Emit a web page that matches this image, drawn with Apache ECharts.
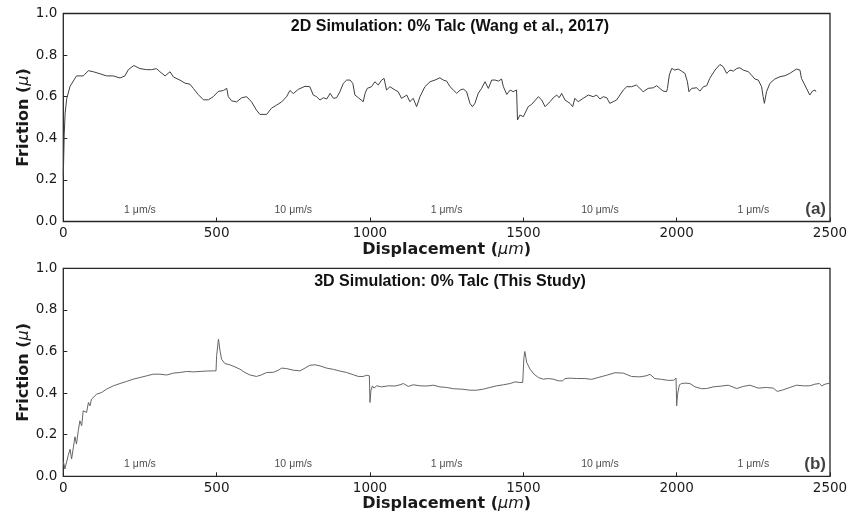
<!DOCTYPE html>
<html>
<head>
<meta charset="utf-8">
<script src="https://cdn.jsdelivr.net/npm/echarts@6/dist/echarts.min.js"></script>
<style>
  html, body { margin: 0; padding: 0; background: #fff; }
  #chart { width: 852px; height: 518px; }
</style>
</head>
<body>
<div id="chart"></div>
<script>
// Friction vs. displacement, [displacement (um), friction]
const trace2D = [
  [0,0.22],[3,0.42],[6,0.52],[11,0.59],[22,0.65],[43,0.70],[65,0.70],[82,0.725],[98,0.72],[120,0.71],
  [141,0.70],[163,0.70],[185,0.69],[201,0.70],[212,0.73],[230,0.75],[250,0.735],[272,0.73],[288,0.73],
  [304,0.735],[315,0.72],[332,0.70],[348,0.72],[359,0.695],[380,0.68],[397,0.665],[413,0.66],[424,0.64],
  [440,0.61],[457,0.585],[473,0.585],[489,0.60],[505,0.625],[522,0.63],[533,0.64],[538,0.60],[549,0.58],
  [565,0.575],[582,0.595],[598,0.60],[614,0.575],[630,0.535],[641,0.515],[663,0.515],[679,0.545],
  [696,0.56],[712,0.575],[728,0.60],[739,0.63],[750,0.615],[766,0.635],[788,0.65],[804,0.648],[815,0.608],
  [826,0.60],[837,0.584],[848,0.595],[859,0.589],[870,0.616],[875,0.624],[881,0.592],[891,0.595],
  [902,0.624],[913,0.664],[924,0.68],[935,0.68],[944,0.664],[951,0.608],[962,0.595],[978,0.576],
  [984,0.616],[991,0.64],[1005,0.648],[1016,0.672],[1027,0.656],[1038,0.68],[1046,0.688],[1054,0.632],
  [1065,0.648],[1082,0.632],[1092,0.624],[1103,0.592],[1120,0.608],[1130,0.576],[1141,0.592],[1152,0.552],
  [1163,0.60],[1179,0.648],[1196,0.672],[1212,0.68],[1228,0.691],[1239,0.68],[1250,0.675],[1261,0.648],
  [1272,0.632],[1283,0.616],[1294,0.632],[1304,0.637],[1315,0.624],[1326,0.568],[1334,0.552],[1342,0.568],
  [1353,0.616],[1364,0.64],[1375,0.672],[1386,0.64],[1397,0.68],[1408,0.68],[1419,0.675],[1429,0.685],
  [1435,0.648],[1446,0.611],[1457,0.632],[1467,0.624],[1478,0.632],[1481,0.488],[1489,0.512],[1500,0.504],
  [1516,0.552],[1527,0.563],[1533,0.568],[1549,0.60],[1560,0.584],[1571,0.552],[1587,0.576],[1598,0.595],
  [1609,0.608],[1617,0.595],[1625,0.616],[1636,0.584],[1652,0.568],[1661,0.552],[1668,0.592],[1679,0.576],
  [1695,0.592],[1712,0.608],[1728,0.60],[1739,0.608],[1750,0.589],[1761,0.60],[1772,0.595],[1782,0.568],
  [1793,0.576],[1804,0.584],[1815,0.608],[1826,0.632],[1837,0.648],[1853,0.648],[1869,0.656],[1880,0.64],
  [1891,0.624],[1907,0.64],[1924,0.643],[1935,0.653],[1945,0.64],[1956,0.627],[1967,0.624],[1970,0.64],
  [1976,0.704],[1984,0.736],[1994,0.728],[2005,0.733],[2016,0.723],[2027,0.712],[2035,0.672],[2040,0.624],
  [2049,0.64],[2065,0.643],[2076,0.627],[2087,0.648],[2098,0.653],[2108,0.688],[2125,0.728],[2141,0.755],
  [2152,0.744],[2163,0.712],[2174,0.728],[2185,0.723],[2196,0.736],[2206,0.739],[2217,0.728],[2234,0.72],
  [2244,0.704],[2255,0.685],[2266,0.68],[2277,0.648],[2282,0.60],[2286,0.568],[2293,0.624],[2304,0.664],
  [2320,0.685],[2337,0.696],[2353,0.701],[2369,0.712],[2380,0.723],[2391,0.733],[2402,0.728],[2407,0.688],
  [2418,0.656],[2426,0.632],[2434,0.608],[2443,0.627],[2451,0.632],[2454,0.624]
];

const trace3D = [
  [0,0.07],[2,0.06],[5,0.035],[11,0.043],[16,0.10],[22,0.13],[27,0.083],[33,0.14],[38,0.19],[43,0.155],
  [49,0.22],[54,0.267],[60,0.243],[65,0.315],[71,0.323],[76,0.307],[82,0.355],[87,0.339],[92,0.371],
  [98,0.363],[109,0.395],[125,0.403],[141,0.419],[163,0.435],[185,0.446],[206,0.456],[228,0.467],
  [250,0.475],[272,0.483],[293,0.491],[315,0.491],[337,0.487],[359,0.496],[380,0.499],[402,0.504],
  [424,0.502],[446,0.504],[467,0.506],[489,0.507],[498,0.507],[500,0.58],[506,0.66],[511,0.603],
  [516,0.563],[527,0.542],[543,0.536],[560,0.526],[576,0.515],[592,0.499],[609,0.487],[630,0.48],
  [647,0.488],[663,0.499],[685,0.5],[701,0.51],[712,0.52],[728,0.518],[750,0.51],[772,0.507],[788,0.52],
  [804,0.534],[821,0.536],[837,0.531],[859,0.52],[881,0.514],[902,0.506],[924,0.499],[946,0.488],
  [962,0.48],[978,0.48],[989,0.486],[998,0.483],[1000,0.355],[1003,0.411],[1008,0.435],[1013,0.424],
  [1022,0.435],[1038,0.43],[1060,0.435],[1082,0.434],[1098,0.44],[1109,0.446],[1125,0.432],[1141,0.44],
  [1163,0.435],[1185,0.434],[1207,0.438],[1228,0.43],[1250,0.427],[1272,0.421],[1299,0.419],[1326,0.414],
  [1348,0.414],[1370,0.419],[1391,0.427],[1413,0.435],[1435,0.44],[1457,0.446],[1473,0.454],[1489,0.451],
  [1498,0.451],[1502,0.571],[1505,0.60],[1511,0.547],[1522,0.515],[1535,0.491],[1549,0.475],[1565,0.467],
  [1582,0.47],[1598,0.467],[1614,0.459],[1628,0.459],[1636,0.47],[1652,0.472],[1674,0.47],[1701,0.47],
  [1723,0.466],[1744,0.475],[1772,0.486],[1799,0.498],[1826,0.496],[1853,0.48],[1880,0.478],[1900,0.483],
  [1913,0.49],[1929,0.47],[1951,0.466],[1973,0.461],[1991,0.462],[1998,0.472],[2000,0.339],[2003,0.395],
  [2009,0.44],[2016,0.446],[2027,0.448],[2043,0.446],[2060,0.43],[2081,0.421],[2098,0.422],[2119,0.43],
  [2147,0.434],[2168,0.438],[2196,0.422],[2217,0.432],[2239,0.438],[2266,0.424],[2293,0.427],[2315,0.424],
  [2328,0.408],[2348,0.416],[2369,0.427],[2391,0.438],[2413,0.435],[2434,0.435],[2451,0.443],[2465,0.446],
  [2473,0.435],[2484,0.443],[2500,0.448]
];

// Loading-rate stages along the displacement axis
const speedLabels = ['1 μm/s', '10 μm/s', '1 μm/s', '10 μm/s', '1 μm/s'];
const speedCenters = [250, 750, 1250, 1750, 2250];

const panelTitles = ['2D Simulation: 0% Talc (Wang et al., 2017)', '3D Simulation: 0% Talc (This Study)'];
const panelTags = ['(a)', '(b)'];

const xTicks = { min: 0, max: 2500, interval: 500 };
const yTicks = { min: 0, max: 1.0, interval: 0.2 };

const PLOT_LEFT = 63.3, PLOT_RIGHT = 22, PLOT_H = 208;
const panelTops = [13.5, 268.3];
const lineColors = ['#404040', '#666666'];

const chart = echarts.init(document.getElementById('chart'), null, { renderer: 'canvas' });

const tickFont = { fontFamily: 'DejaVu Sans', fontSize: 13.5, color: '#1a1a1a' };
const nameBold = { fontFamily: 'DejaVu Sans', fontSize: 16, fontWeight: 'bold', color: '#1a1a1a' };
const nameItalic = { fontFamily: 'DejaVu Sans', fontSize: 16, fontStyle: 'italic', fontWeight: 'normal', color: '#1a1a1a' };

const grids = [], xAxes = [], yAxes = [], series = [], titles = [];

[trace2D, trace3D].forEach((trace, i) => {
  grids.push({
    left: PLOT_LEFT, right: PLOT_RIGHT, top: panelTops[i], height: PLOT_H,
    show: true, borderColor: '#262626', borderWidth: 1.3, backgroundColor: '#fff'
  });
  xAxes.push({
    type: 'value', gridIndex: i, min: xTicks.min, max: xTicks.max, interval: xTicks.interval,
    axisLine: { show: false },
    axisTick: { show: true, inside: true, length: 4, lineStyle: { color: '#262626', width: 1 } },
    axisLabel: Object.assign({ margin: 5, formatter: v => String(v) }, tickFont),
    splitLine: { show: false },
    name: '{b|Displacement (}{i|μm}{b|)}',
    nameLocation: 'middle', nameGap: 20, nameMoveOverlap: false,
    nameTextStyle: { rich: { b: nameBold, i: nameItalic } }
  });
  yAxes.push({
    type: 'value', gridIndex: i, min: yTicks.min, max: yTicks.max, interval: yTicks.interval,
    axisLine: { show: false },
    axisTick: { show: true, inside: true, length: 4, lineStyle: { color: '#262626', width: 1 } },
    axisLabel: Object.assign({ margin: 6, formatter: v => v.toFixed(1) }, tickFont),
    splitLine: { show: false },
    name: '{b|Friction (}{i|μ}{b|)}',
    nameLocation: 'middle', nameGap: 31, nameRotate: 90, nameMoveOverlap: false,
    nameTextStyle: { rich: { b: nameBold, i: nameItalic } }
  });
  series.push({
    type: 'line', xAxisIndex: i, yAxisIndex: i, data: trace,
    showSymbol: false, symbol: 'none', smooth: false,
    lineStyle: { color: lineColors[i], width: 1 }, silent: true
  });
  series.push({
    type: 'scatter', xAxisIndex: i, yAxisIndex: i, symbolSize: 0, silent: true,
    data: speedCenters.map((d, k) => ({ name: speedLabels[k], value: [d, 0.057] })),
    label: {
      show: true, position: 'inside', formatter: p => p.name,
      fontFamily: 'Liberation Sans', fontSize: 10.5, color: '#1a1a1a'
    }
  });
  series.push({
    type: 'scatter', xAxisIndex: i, yAxisIndex: i, symbolSize: 0, silent: true,
    data: [{ name: panelTags[i], value: [xTicks.max, 0.057] }],
    label: {
      show: true, position: 'left', distance: 4, formatter: p => p.name,
      fontFamily: 'Liberation Sans', fontSize: 17, fontWeight: 'bold', color: '#111'
    }
  });
  titles.push({
    text: panelTitles[i], left: 445, top: panelTops[i] + 0.5, textAlign: 'center',
    textStyle: { fontFamily: 'Liberation Sans', fontSize: 16, fontWeight: 'bold', color: '#111' }
  });
});

chart.setOption({
  animation: false,
  backgroundColor: '#fff',
  title: titles,
  grid: grids,
  xAxis: xAxes,
  yAxis: yAxes,
  series: series
});
</script>
</body>
</html>
